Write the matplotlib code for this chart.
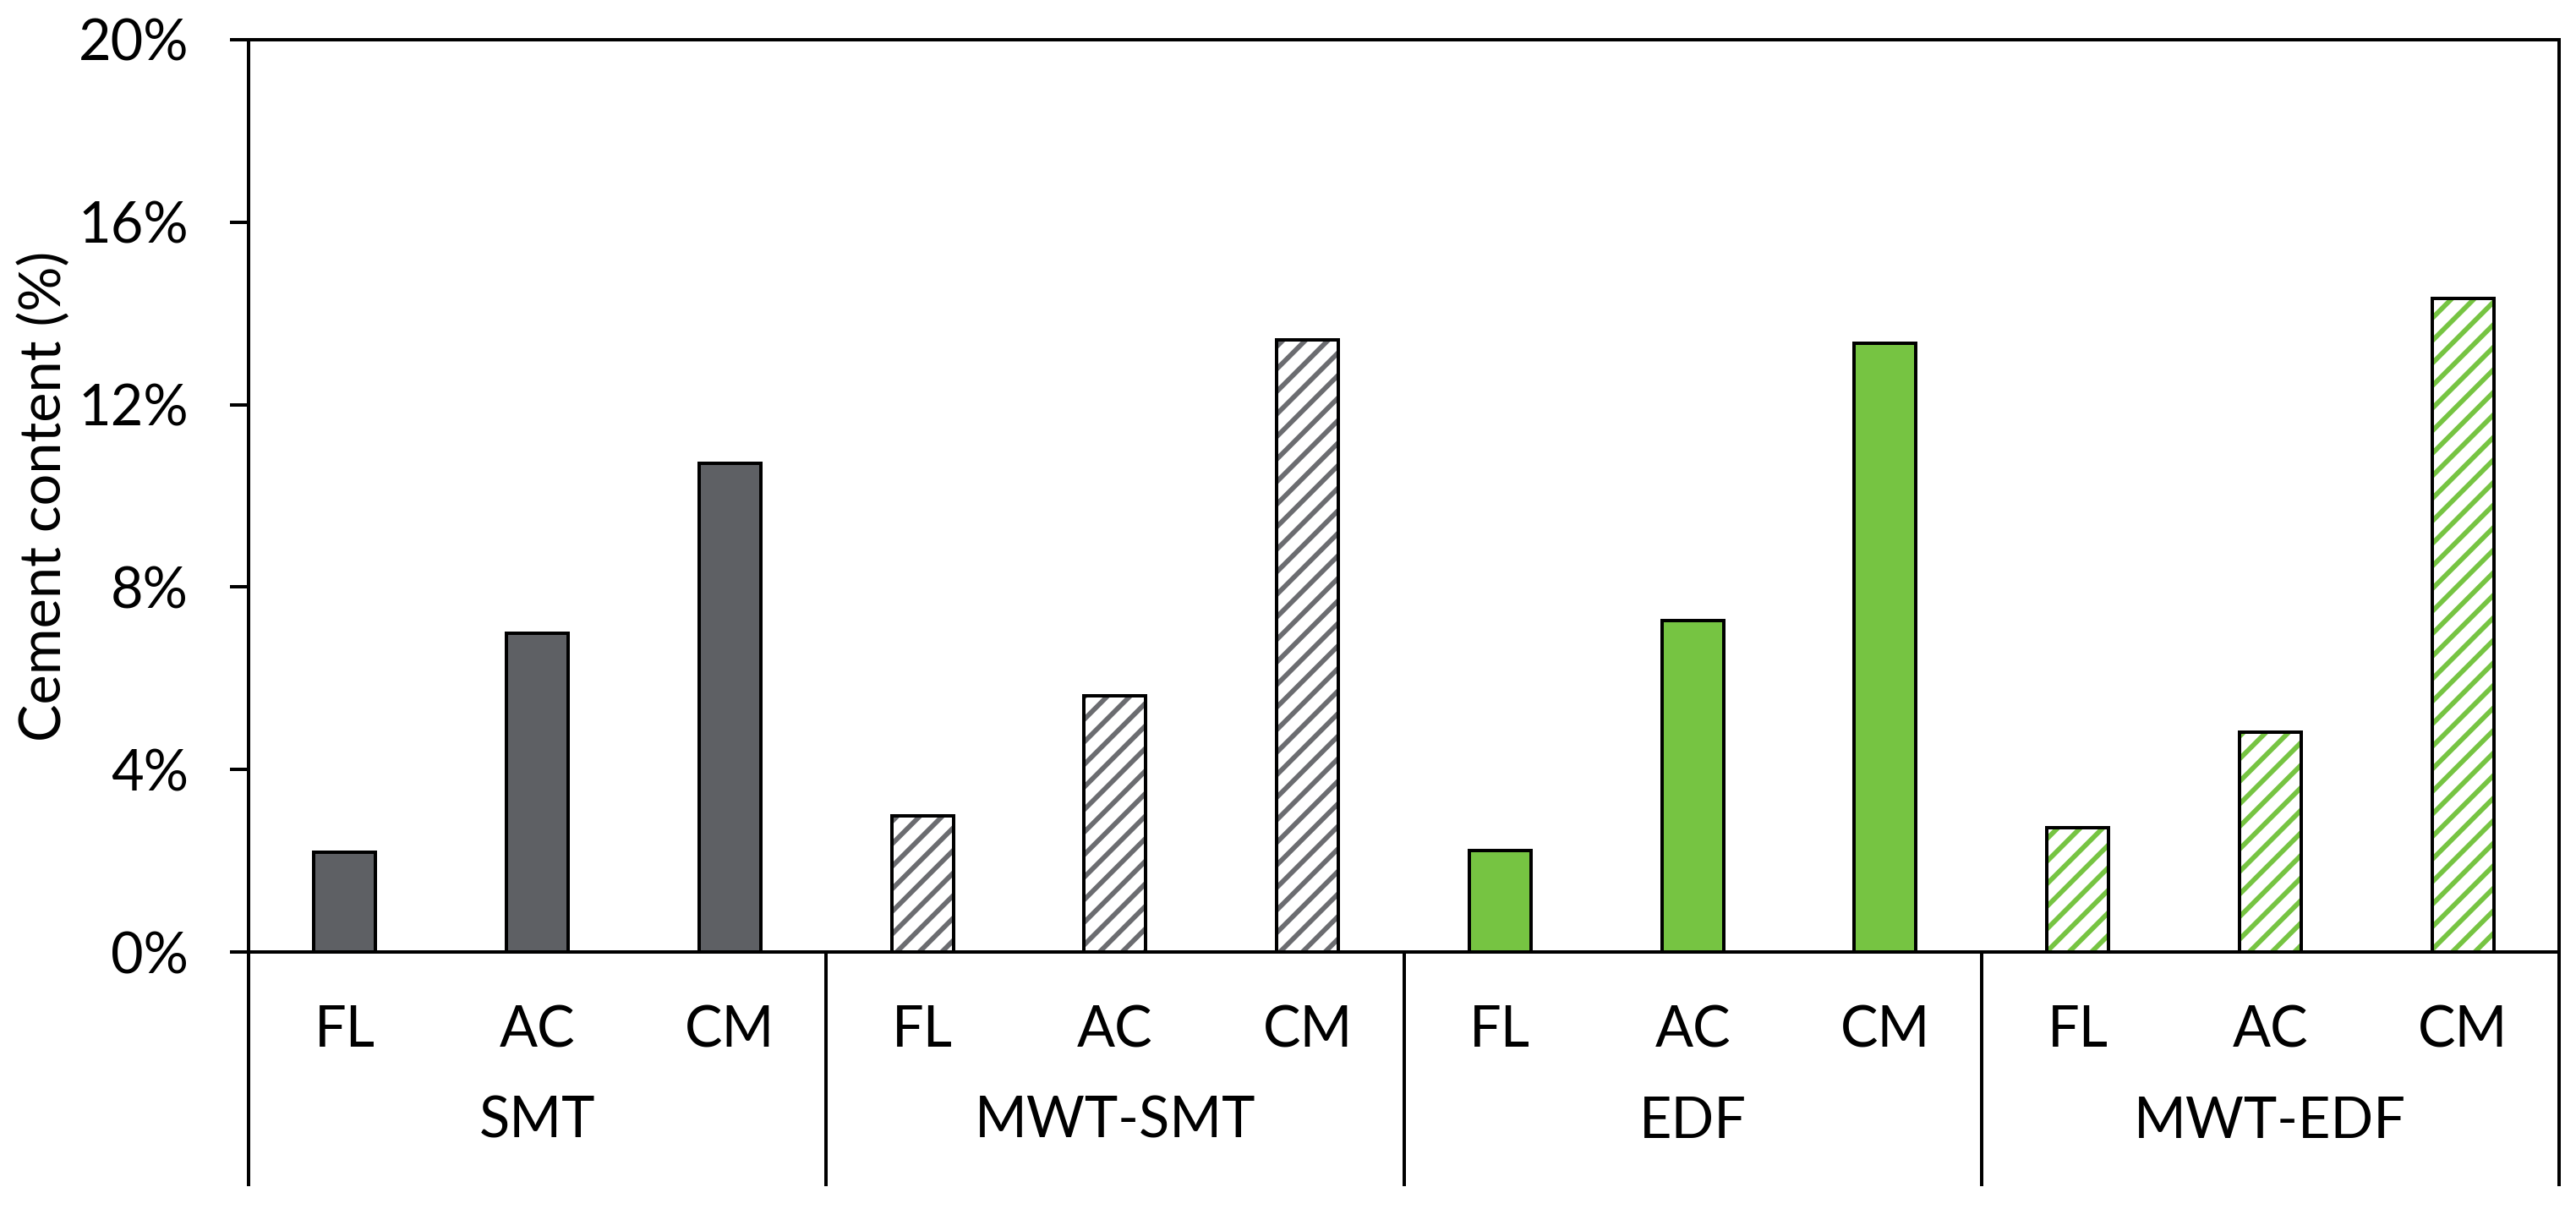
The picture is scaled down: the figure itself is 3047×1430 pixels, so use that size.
import numpy as np
import matplotlib
matplotlib.use("Agg")
import matplotlib.pyplot as plt
from matplotlib.ticker import FuncFormatter

# Datos
grupos = ["SMT", "MWT-SMT", "EDF", "MWT-EDF"]
categorias = ["FL", "AC", "CM"]
smt = [2.19, 6.98, 10.72]
mwt_smt = [2.99, 5.61, 13.42]
edf = [2.23, 7.27, 13.35]
mwt_edf = [2.73, 4.82, 14.32]

series = [smt, mwt_smt, edf, mwt_edf]
gris = "#5e6064"
gris_rayado = "#6b6c70"
verde = "#76c442"
estilos = [
    dict(color=gris, hatch=None),
    dict(color=gris_rayado, hatch="//"),
    dict(color=verde, hatch=None),
    dict(color=verde, hatch="//"),
]

plt.rcParams["font.family"] = ["Lato", "DejaVu Sans"]
plt.rcParams["hatch.linewidth"] = 2.6

dpi = 160
fig = plt.figure(figsize=(3047 / dpi, 1430 / dpi), dpi=dpi)
ax = fig.add_axes([294 / 3047, 1 - 1126 / 1430, 2733 / 3047, 1079 / 1430])

ancho = 0.32
lw = 1.8
for g, (valores, est) in enumerate(zip(series, estilos)):
    x = np.arange(len(categorias)) + g * len(categorias)
    if est["hatch"] is None:
        ax.bar(x, valores, width=ancho, color=est["color"], edgecolor="black",
               linewidth=lw, zorder=3)
    else:
        # primero el rayado, luego el borde negro encima
        ax.bar(x, valores, width=ancho, facecolor="white", edgecolor=est["color"],
               hatch=est["hatch"], linewidth=0, zorder=3)
        ax.bar(x, valores, width=ancho, facecolor="none", edgecolor="black",
               linewidth=lw, zorder=4)

ax.set_xlim(-0.5, len(grupos) * len(categorias) - 0.5)
ax.set_ylim(0, 20)
ax.set_yticks(np.arange(0, 21, 4))
ax.yaxis.set_major_formatter(FuncFormatter(lambda v, p: f"{v:.0f}%"))
ax.tick_params(axis="y", length=10, width=lw, pad=22, labelsize=30)

# etiquetas de categoria en el eje x
posiciones = np.arange(len(grupos) * len(categorias))
ax.set_xticks(posiciones)
ax.set_xticklabels(categorias * len(grupos))
ax.tick_params(axis="x", length=0, pad=28, labelsize=30)

for s in ax.spines.values():
    s.set_linewidth(lw)

ax.set_ylabel("Cement content (%)", fontsize=30)
ax.yaxis.set_label_coords(-0.077, 0.5)

# lineas separadoras y nombres de grupo
trans = ax.get_xaxis_transform()
fondo = -277 / 1079
for b in np.arange(len(grupos) + 1) * len(categorias) - 0.5:
    ax.plot([b, b], [0, fondo], transform=trans, color="black", lw=lw,
            clip_on=False, solid_capstyle="butt")
for g, nombre in enumerate(grupos):
    ax.text(g * len(categorias) + 1, -201 / 1079, nombre, transform=trans,
            ha="center", va="center", fontsize=30)

fig.savefig("out.png", dpi=dpi)
